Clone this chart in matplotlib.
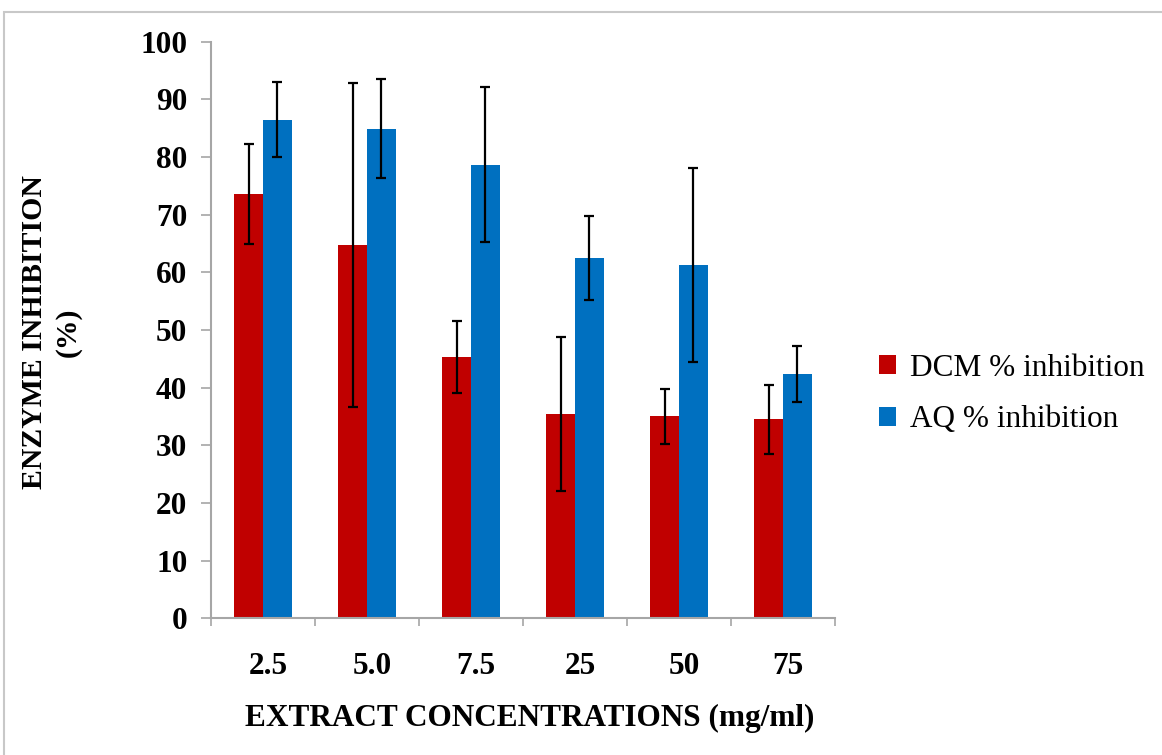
import matplotlib
matplotlib.use("Agg")
import matplotlib.pyplot as plt
import numpy as np
from matplotlib.patches import Rectangle

categories = ["2.5", "5.0", "7.5", "25", "50", "75"]
dcm = [73.6, 64.7, 45.3, 35.4, 35.0, 34.5]
dcm_err = [8.7, 28.1, 6.2, 13.4, 4.7, 6.0]
aq = [86.5, 84.9, 78.7, 62.5, 61.3, 42.4]
aq_err = [6.5, 8.6, 13.5, 7.3, 16.8, 4.9]
series_names = ["DCM % inhibition", "AQ % inhibition"]

plt.rcParams['font.family'] = ['Liberation Serif', 'DejaVu Serif']

fig = plt.figure(figsize=(11.62, 7.55), dpi=100)
W, H = 1162, 755
ax = fig.add_axes([211 / W, 1 - 618.3 / H, (835 - 211) / W, (618.3 - 41.7) / H])

x = np.arange(len(categories))
w = 0.278
ekw = dict(ecolor="black", elinewidth=1.6, capsize=3.8, capthick=1.6)
ax.bar(x - w / 2, dcm, w, color="#C00000", yerr=dcm_err, error_kw=ekw, label=series_names[0])
ax.bar(x + w / 2, aq, w, color="#0070C0", yerr=aq_err, error_kw=ekw, label=series_names[1])

FS = 22.5
ax.set_xlim(-0.5, len(categories) - 0.5)
ax.set_ylim(0, 100)
ax.set_yticks(np.arange(0, 101, 10))
ax.set_xticks(x + 0.05)
ax.set_xticklabels(categories, fontsize=FS, fontweight="bold")
ax.set_xticks(np.arange(-0.5, len(categories), 1), minor=True)
ax.tick_params(axis="x", which="major", length=0, pad=24)
ax.tick_params(axis="x", which="minor", length=6, width=1.2, color="#A6A6A6", direction="out")
ax.tick_params(axis="y", length=7, width=1.2, color="#A6A6A6", pad=10, labelsize=FS)
for lab in ax.get_yticklabels():
    lab.set_fontweight("bold")

for s in ["top", "right"]:
    ax.spines[s].set_visible(False)
for s in ["left", "bottom"]:
    ax.spines[s].set_color("#A6A6A6")
    ax.spines[s].set_linewidth(1.5)

fig.text(530 / W, 1 - 718 / H, "EXTRACT CONCENTRATIONS (mg/ml)", ha="center", va="center",
         fontsize=FS, fontweight="bold")
fig.text(35 / W, 1 - 332 / H, "ENZYME INHIBITION", ha="center", va="center",
         rotation=90, fontsize=FS * 0.95, fontweight="bold")
fig.text(68 / W, 1 - 332 / H, "(%)", ha="center", va="center",
         rotation=90, fontsize=FS * 0.95, fontweight="bold")

fig.legend(loc="center left", bbox_to_anchor=(866 / W, 1 - 394 / H), frameon=False,
           fontsize=FS, handlelength=0.55, handleheight=0.55, handletextpad=0.45,
           labelspacing=0.72, borderaxespad=0)

fig.patches.append(Rectangle((4 / W, -0.01), 1.0, 1 - 12 / H + 0.01, transform=fig.transFigure,
                             fill=False, edgecolor="#C8C8C8", linewidth=1.5))

fig.savefig("out.png", dpi=100)
